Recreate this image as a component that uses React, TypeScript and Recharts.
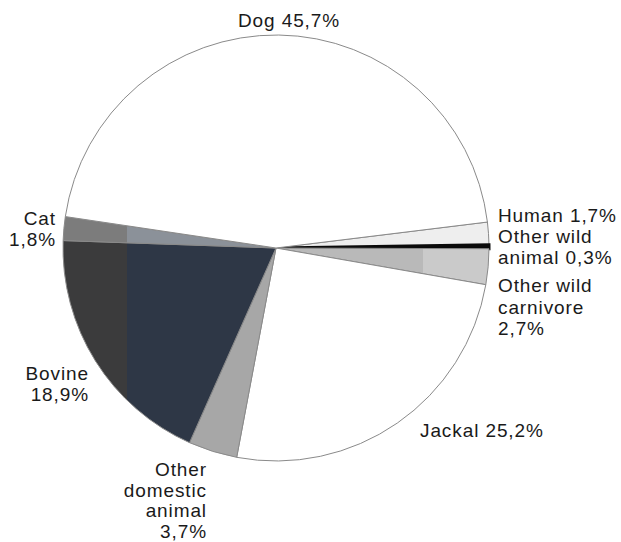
import React from 'react';
import { PieChart, Pie, Cell } from 'recharts';

const names = [
  'Human',
  'Other wild animal',
  'Other wild carnivore',
  'Jackal',
  'Other domestic animal',
  'Bovine',
  'Cat',
  'Dog',
];
const values = [1.7, 0.3, 2.7, 25.2, 3.7, 18.9, 1.8, 45.7];
const labelLines = [
  ['Human 1,7%'],
  ['Other wild', 'animal 0,3%'],
  ['Other wild', 'carnivore', '2,7%'],
  ['Jackal 25,2%'],
  ['Other', 'domestic', 'animal', '3,7%'],
  ['Bovine', '18,9%'],
  ['Cat', '1,8%'],
  ['Dog 45,7%'],
];

const fills = [
  '#eeeeee',
  '#0a0a0a',
  'url(#gCarn)',
  '#ffffff',
  '#a7a7a7',
  'url(#gBov)',
  'url(#gCat)',
  '#ffffff',
];
const strokes = ['#8a8a8a', '#0a0a0a', '#8a8a8a', '#8a8a8a', '#8a8a8a', '#8a8a8a', '#8a8a8a', '#8a8a8a'];
const strokeWidths = [1, 3, 1, 1, 1, 1, 1, 1];

// layout of label text blocks (first baseline)
const labelLayout: Record<string, { x: number; y: number; anchor: 'start' | 'middle' | 'end'; lh: number }> = {
  Human: { x: 498, y: 222, anchor: 'start', lh: 21 },
  'Other wild animal': { x: 498, y: 243, anchor: 'start', lh: 21 },
  'Other wild carnivore': { x: 498, y: 292, anchor: 'start', lh: 21.5 },
  Jackal: { x: 420, y: 437, anchor: 'start', lh: 21 },
  'Other domestic animal': { x: 207, y: 476, anchor: 'end', lh: 20.5 },
  Bovine: { x: 89, y: 380, anchor: 'end', lh: 21 },
  Cat: { x: 56, y: 225, anchor: 'end', lh: 21 },
  Dog: { x: 289, y: 27, anchor: 'middle', lh: 21 },
};

const data = names.map((n, i) => ({ name: n, value: values[i] }));

const renderLabel = (p: any) => {
  const idx = p.index;
  const name = names[idx];
  const L = labelLayout[name];
  const lines = labelLines[idx];
  return (
    <text
      key={name}
      x={L.x}
      y={L.y}
      textAnchor={L.anchor}
      fill="#1a1a1a"
      fontSize={19}
      letterSpacing={0.9}
      fontFamily="'Liberation Sans', Arial, sans-serif"
    >
      {lines.map((t, j) => (
        <tspan key={j} x={L.x} y={L.y + j * L.lh}>
          {t}
        </tspan>
      ))}
    </text>
  );
};

export default function App() {
  return (
    <div style={{ position: 'absolute', left: 0, top: 0, background: '#fff' }}>
      <PieChart width={621} height={542} margin={{ top: 0, right: 0, bottom: 0, left: 0 }}>
        <defs>
          <linearGradient id="gBov" gradientUnits="userSpaceOnUse" x1={0} y1={0} x2={621} y2={0}>
            <stop offset={127 / 621} stopColor="#3b3b3c" />
            <stop offset={127 / 621} stopColor="#2e3746" />
          </linearGradient>
          <linearGradient id="gCat" gradientUnits="userSpaceOnUse" x1={0} y1={0} x2={621} y2={0}>
            <stop offset={127 / 621} stopColor="#7c7c7c" />
            <stop offset={127 / 621} stopColor="#8b9199" />
          </linearGradient>
          <linearGradient id="gCarn" gradientUnits="userSpaceOnUse" x1={0} y1={0} x2={621} y2={0}>
            <stop offset={423 / 621} stopColor="#b9b9b9" />
            <stop offset={423 / 621} stopColor="#cacaca" />
          </linearGradient>
        </defs>
        <Pie
          data={data}
          dataKey="value"
          nameKey="name"
          cx={276}
          cy={248}
          outerRadius={213}
          innerRadius={0}
          startAngle={7}
          endAngle={-353}
          stroke="#8a8a8a"
          strokeWidth={1}
          label={renderLabel}
          labelLine={false}
          isAnimationActive={false}
        >
          {data.map((d, i) => (
            <Cell key={d.name} fill={fills[i]} stroke={strokes[i]} strokeWidth={strokeWidths[i]} />
          ))}
        </Pie>
      </PieChart>
    </div>
  );
}
